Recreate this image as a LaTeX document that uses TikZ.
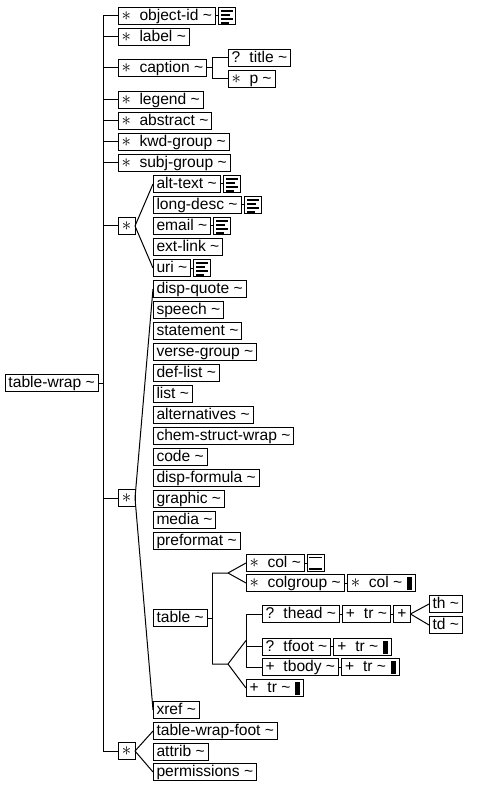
\documentclass[tikz,border=0pt]{standalone}
\usepackage{fontspec}
\setmainfont{Liberation Sans}
\usetikzlibrary{positioning,calc}

\newcommand\occ[1]{\makebox[18pt][l]{#1}}
\newcommand\st{\scalebox{1.3}{$\ast$}}
\newcommand\tl{\textasciitilde}
\newcommand\blk{\hspace{5pt}\rule[-2.25pt]{5pt}{13pt}}

\tikzset{
  elem/.style={draw, fill=white, anchor=west, inner xsep=3.5pt, inner ysep=1.75pt,
    text height=11.5pt, text depth=2pt, outer sep=0pt,
    font=\fontsize{15.6pt}{18pt}\selectfont},
  comp/.style={draw, fill=white, anchor=west, minimum size=17pt, inner sep=0pt,
    outer sep=0pt, font=\fontsize{15.6pt}{18pt}\selectfont},
  docicon/.style={draw, fill=white, minimum size=17pt, inner sep=0pt, outer sep=0pt,
    path picture={
      \foreach \yy/\ww in {2.5pt/12pt,6.5pt/9pt,10.5pt/12pt,14.5pt/8pt}
        \fill[black] ([shift={(2.5pt,-\yy)}]path picture bounding box.north west) rectangle ++(\ww,-2pt);
    }},
  emptyicon/.style={draw, fill=white, minimum size=17pt, inner sep=0pt, outer sep=0pt,
    path picture={
      \draw[black, line width=0.8pt] ([shift={(2pt,-2.5pt)}]path picture bounding box.north west) -- ++(13pt,0pt);
      \fill[black] ([shift={(2pt,-13pt)}]path picture bounding box.north west) rectangle ++(13pt,-2.5pt);
    }},
}

\begin{document}
\begin{tikzpicture}[x=1pt, y=-1pt, line width=1pt]
  \useasboundingbox (0,0) rectangle (477,791);

  % root and trunk
  \node[elem] (tablewrap) at (5,383) {table-wrap \tl};
  \coordinate (trunkTop) at (103,16);
  \coordinate (trunkBot) at (103,751);

  % first level
  \node[elem] (objid) at (118,16) {\occ{\st}object-id \tl};
  \node[docicon, right=3pt of objid] (objid-doc) {};
  \node[elem] (label) at (118,37) {\occ{\st}label \tl};
  \node[elem] (caption) at (118,68) {\occ{\st}caption \tl};
  \node[elem] (legend) at (118,100) {\occ{\st}legend \tl};
  \node[elem] (abstract) at (118,121) {\occ{\st}abstract \tl};
  \node[elem] (kwdgroup) at (118,142) {\occ{\st}kwd-group \tl};
  \node[elem] (subjgroup) at (118,163) {\occ{\st}subj-group \tl};
  \node[comp] (choiceA) at (118,226) {\st};
  \node[comp] (choiceB) at (118,498) {\st};
  \node[comp] (choiceC) at (118,751) {\st};

  % caption children
  \node[elem] (title) at (228,58) {\occ{?}title \tl};
  \node[elem] (p) at (228,79) {\occ{\st}p \tl};
  \coordinate (capFork) at (212,68);

  % first choice
  \node[elem] (alttext) at (153,184) {alt-text \tl};
  \node[elem] (longdesc) at (153,205) {long-desc \tl};
  \node[elem] (email) at (153,226) {email \tl};
  \node[elem] (extlink) at (153,247) {ext-link \tl};
  \node[elem] (uri) at (153,268) {uri \tl};
  \foreach \n in {alttext,longdesc,email,uri}
    \node[docicon, right=3pt of \n] (\n-doc) {};

  % second choice
  \node[elem] (dispquote) at (153,289) {disp-quote \tl};
  \node[elem] (speech) at (153,310) {speech \tl};
  \node[elem] (statement) at (153,331) {statement \tl};
  \node[elem] (versegroup) at (153,352) {verse-group \tl};
  \node[elem] (deflist) at (153,373) {def-list \tl};
  \node[elem] (list) at (153,394) {list \tl};
  \node[elem] (alternatives) at (153,415) {alternatives \tl};
  \node[elem] (chemstruct) at (153,436) {chem-struct-wrap \tl};
  \node[elem] (code) at (153,457) {code \tl};
  \node[elem] (dispformula) at (153,478) {disp-formula \tl};
  \node[elem] (graphic) at (153,499) {graphic \tl};
  \node[elem] (media) at (153,520) {media \tl};
  \node[elem] (preformat) at (153,541) {preformat \tl};
  \node[elem] (table) at (153,618) {table \tl};
  \node[elem] (xref) at (153,710) {xref \tl};

  % table content
  \node[elem] (col) at (246,563) {\occ{\st}col \tl};
  \node[emptyicon, right=3pt of col] (col-icon) {};
  \node[elem] (colgroup) at (246,583) {\occ{\st}colgroup \tl};
  \node[elem, right=3pt of colgroup] (colgroup-col) {\occ{\st}col \tl\blk};
  \node[elem] (thead) at (262,614) {\occ{?}thead \tl};
  \node[elem, right=3pt of thead] (thead-tr) {\occ{+}tr \tl};
  \node[comp, right=3pt of thead-tr] (thead-any) {+};
  \node[elem] (th) at (429,604) {th \tl};
  \node[elem] (td) at (429,625) {td \tl};
  \node[elem] (tfoot) at (262,646.5) {\occ{?}tfoot \tl};
  \node[elem, right=3pt of tfoot] (tfoot-tr) {\occ{+}tr \tl\blk};
  \node[elem] (tbody) at (262,667) {\occ{+}tbody \tl};
  \node[elem, right=3pt of tbody] (tbody-tr) {\occ{+}tr \tl\blk};
  \node[elem] (trD) at (246,688) {\occ{+}tr \tl\blk};
  \coordinate (tblFork) at (212,618);
  \coordinate (colFork) at (228,573);
  \coordinate (bodyFork) at (228,664);
  \coordinate (seqMid) at (246,640.5);

  % third choice
  \node[elem] (tablewrapfoot) at (153,731) {table-wrap-foot \tl};
  \node[elem] (attrib) at (153,752) {attrib \tl};
  \node[elem] (permissions) at (153,772) {permissions \tl};

  % connectors
  \draw (tablewrap.east) -- (tablewrap.east -| trunkTop);
  \draw (trunkTop) -- (trunkBot);
  \foreach \n in {objid,label,caption,legend,abstract,kwdgroup,subjgroup,choiceA,choiceB,choiceC}
    \draw (\n.west) -- (\n.west -| trunkTop);
  \foreach \n in {objid,alttext,longdesc,email,uri}
    \draw (\n) -- (\n-doc);

  \draw (caption.east) -- (capFork);
  \draw (capFork |- title.west) -- (capFork |- p.west);
  \draw (title.west) -- (title.west -| capFork);
  \draw (p.west) -- (p.west -| capFork);

  \foreach \n in {alttext,uri} \draw (choiceA.east) -- (\n.west);
  \foreach \n in {dispquote,xref} \draw (choiceB.east) -- (\n.west);
  \foreach \n in {tablewrapfoot,permissions} \draw (choiceC.east) -- (\n.west);

  \draw (table.east) -- (tblFork);
  \draw (colFork -| tblFork) -- (bodyFork -| tblFork);
  \draw (colFork -| tblFork) -- (colFork) -- (col.west);
  \draw (colFork) -- (colgroup.west);
  \draw (bodyFork -| tblFork) -- (bodyFork) -- (seqMid);
  \draw (bodyFork) -- (trD.west);
  \draw (seqMid |- thead.west) -- (seqMid |- tbody.west);
  \foreach \n in {thead,tfoot,tbody}
    \draw (\n.west) -- (\n.west -| seqMid);
  \draw (col) -- (col-icon);
  \draw (colgroup) -- (colgroup-col);
  \draw (thead) -- (thead-tr);
  \draw (thead-tr) -- (thead-any);
  \draw (thead-any.east) -- (th.west);
  \draw (thead-any.east) -- (td.west);
  \draw (tfoot) -- (tfoot-tr);
  \draw (tbody) -- (tbody-tr);
\end{tikzpicture}
\end{document}
